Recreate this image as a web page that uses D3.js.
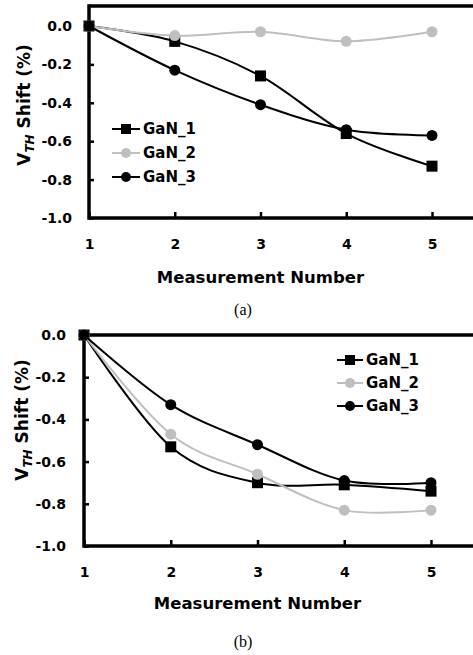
<!DOCTYPE html>
<html>
<head>
<meta charset="utf-8">
<script src="https://cdn.jsdelivr.net/npm/d3@7"></script>
<style>
  body { margin: 0; background: #fff; }
  svg { display: block; }
  text { font-family: "DejaVu Sans", sans-serif; font-weight: bold; fill: #000; }
</style>
</head>
<body>
<div id="plot"></div>
<script>
// Data
const measurements = [1, 2, 3, 4, 5];
const seriesNames = ["GaN_1", "GaN_2", "GaN_3"];
const gan1A = [0, -0.08, -0.26, -0.56, -0.73];
const gan2A = [0, -0.05, -0.03, -0.08, -0.03];
const gan3A = [0, -0.23, -0.41, -0.54, -0.57];
const gan1B = [0, -0.53, -0.70, -0.71, -0.74];
const gan2B = [0, -0.47, -0.66, -0.83, -0.83];
const gan3B = [0, -0.33, -0.52, -0.69, -0.70];
const yTicks = [0, -0.2, -0.4, -0.6, -0.8, -1.0];
const xTicks = [1, 2, 3, 4, 5];

const W = 473, H = 655;

const svg = d3.select("#plot")
    .append("svg")
    .attr("width", W)
    .attr("height", H);

// series styling
const colors = ["#000", "#bfbfbf", "#000"];
const shapes = ["square", "circle", "circle"];

function marker(g, shape, cx, cy, color, size) {
    if (shape === "square") {
        g.append("rect")
            .attr("x", cx - size / 2)
            .attr("y", cy - size / 2)
            .attr("width", size)
            .attr("height", size)
            .attr("fill", color);
    } else {
        g.append("circle")
            .attr("cx", cx)
            .attr("cy", cy)
            .attr("r", size / 2)
            .attr("fill", color);
    }
}

function drawPanel(opts) {
    const g = svg.append("g");

    const x = d3.scaleLinear().domain([1, 5]).range([opts.left, opts.right]);
    const y = d3.scaleLinear().domain([-1, 0]).range([opts.bottom, opts.zero]);

    // frame top (right side runs off the picture)
    g.append("line")
        .attr("x1", opts.left).attr("x2", W + 10)
        .attr("y1", opts.top).attr("y2", opts.top)
        .attr("stroke", "#000").attr("stroke-width", 3.5);

    // y axis
    const yAxis = g.append("g")
        .attr("transform", `translate(${opts.left},0)`)
        .call(d3.axisLeft(y)
            .tickValues(yTicks)
            .tickSize(-5)
            .tickSizeOuter(0)
            .tickPadding(opts.yPad)
            .tickFormat(d => d.toFixed(1)));
    yAxis.select(".domain").remove();
    g.append("line")
        .attr("x1", opts.left).attr("x2", opts.left)
        .attr("y1", opts.top - 1.75).attr("y2", opts.bottom + 1.75)
        .attr("stroke", "#000").attr("stroke-width", 3.5);

    // x axis
    const xAxis = g.append("g")
        .attr("transform", `translate(0,${opts.bottom})`)
        .call(d3.axisBottom(x)
            .tickValues(xTicks)
            .tickSize(-6)
            .tickSizeOuter(0)
            .tickPadding(opts.xPad)
            .tickFormat(d3.format("d")));
    xAxis.select(".domain").remove();
    g.append("line")
        .attr("x1", opts.left).attr("x2", W + 10)
        .attr("y1", opts.bottom).attr("y2", opts.bottom)
        .attr("stroke", "#000").attr("stroke-width", 3.5);

    g.selectAll(".tick line").attr("stroke", "#000").attr("stroke-width", 2.5);
    g.selectAll(".tick text")
        .style("font-family", "DejaVu Sans")
        .style("font-weight", "bold")
        .style("font-size", "14px")
        .attr("fill", "#000");

    // axis titles
    g.append("text")
        .attr("x", x(3))
        .attr("y", opts.xTitleY)
        .attr("text-anchor", "middle")
        .style("font-size", "16.5px")
        .text("Measurement Number");

    const yt = g.append("text")
        .attr("transform", `translate(${opts.yTitleX},${opts.yTitleY}) rotate(-90)`)
        .attr("text-anchor", "middle")
        .style("font-size", "17px");
    yt.append("tspan").text("V");
    yt.append("tspan")
        .attr("dy", 4)
        .style("font-size", "12px")
        .style("font-style", "italic")
        .text("TH");
    yt.append("tspan").attr("dy", -4).text(" Shift (%)");

    // caption
    g.append("text")
        .attr("x", 243)
        .attr("y", opts.captionY)
        .attr("text-anchor", "middle")
        .style("font-family", "Liberation Serif, serif")
        .style("font-weight", "normal")
        .style("font-size", "16px")
        .text(opts.caption);

    // series
    const line = d3.line()
        .x((d, i) => x(measurements[i]))
        .y(d => y(d))
        .curve(d3.curveCardinal.tension(0));

    opts.series.forEach((vals, s) => {
        g.append("path")
            .datum(vals)
            .attr("fill", "none")
            .attr("stroke", colors[s])
            .attr("stroke-width", 2)
            .attr("d", line);
        vals.forEach((v, i) => marker(g, shapes[s], x(measurements[i]), y(v), colors[s], 11));
    });

    // legend
    seriesNames.forEach((name, s) => {
        const ly = opts.legY + s * opts.legStep;
        g.append("line")
            .attr("x1", opts.legX).attr("x2", opts.legX + opts.legLen)
            .attr("y1", ly).attr("y2", ly)
            .attr("stroke", colors[s]).attr("stroke-width", 2);
        marker(g, shapes[s], opts.legX + opts.legLen / 2, ly, colors[s], 10);
        g.append("text")
            .attr("x", opts.legX + opts.legLen + 3)
            .attr("y", ly)
            .attr("dy", "0.36em")
            .style("font-size", "15px")
            .text(name);
    });
}

// Panel (a)
drawPanel({
    left: 89, right: 432, top: 6, zero: 26, bottom: 218,
    yPad: 17, xPad: 21, xTitleY: 283, yTitleX: 30, yTitleY: 105,
    captionY: 315, caption: "(a)",
    series: [gan1A, gan2A, gan3A],
    legX: 112, legLen: 28, legY: 129, legStep: 24
});

// Panel (b)
drawPanel({
    left: 84, right: 431, top: 335, zero: 335, bottom: 546,
    yPad: 18, xPad: 21, xTitleY: 609, yTitleX: 28, yTitleY: 420,
    captionY: 647, caption: "(b)",
    series: [gan1B, gan2B, gan3B],
    legX: 337, legLen: 26, legY: 360, legStep: 23
});
</script>
</body>
</html>
